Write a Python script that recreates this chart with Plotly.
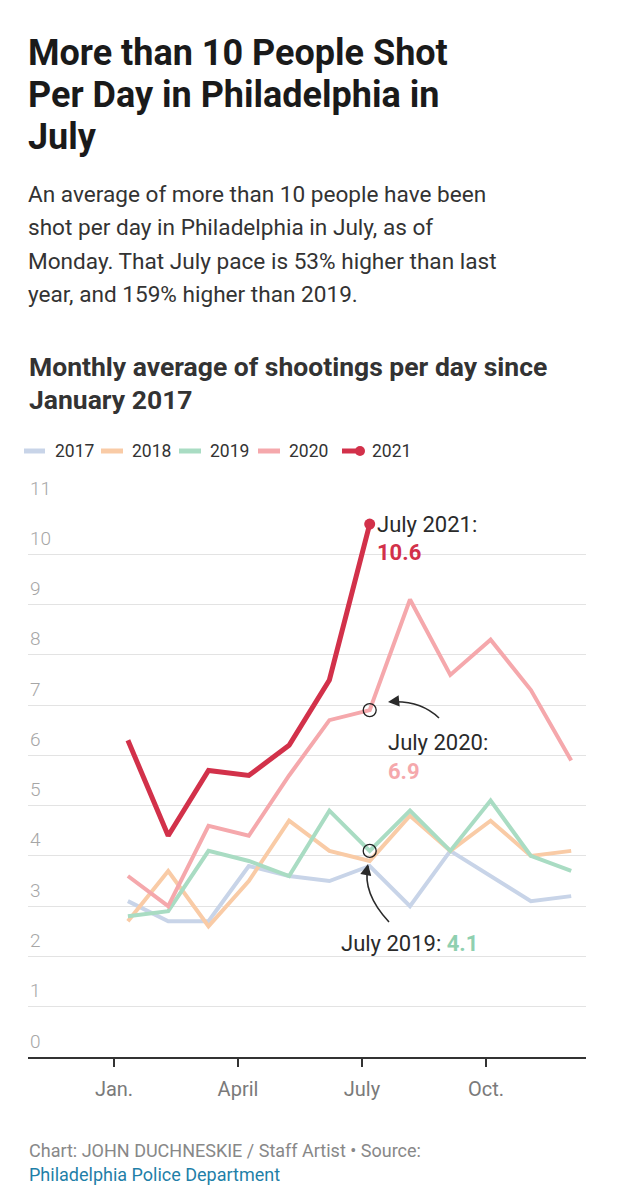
import plotly.graph_objects as go

# Monthly average of shootings per day, Jan..Dec
months = list(range(1, 13))
y2017 = [3.1, 2.7, 2.7, 3.8, 3.6, 3.5, 3.8, 3.0, 4.1, 3.6, 3.1, 3.2]
y2018 = [2.7, 3.7, 2.6, 3.5, 4.7, 4.1, 3.9, 4.8, 4.1, 4.7, 4.0, 4.1]
y2019 = [2.8, 2.9, 4.1, 3.9, 3.6, 4.9, 4.1, 4.9, 4.1, 5.1, 4.0, 3.7]
y2020 = [3.6, 3.0, 4.6, 4.4, 5.6, 6.7, 6.9, 9.1, 7.6, 8.3, 7.3, 5.9]
y2021 = [6.3, 4.4, 5.7, 5.6, 6.2, 7.5, 10.6]

years = ["2017", "2018", "2019", "2020", "2021"]
series = [y2017, y2018, y2019, y2020, y2021]
colors = ["#c8d4e8", "#f9cba6", "#a9dcc3", "#f5a8ac", "#d2314a"]
widths = [4, 4, 4, 4, 5]

tick_vals = [0.655, 3.732, 6.809, 9.886]
tick_text = ["Jan.", "April", "July", "Oct."]
y_ticks = list(range(0, 12))

FONT = "Roboto"
# page body has an 8px margin, so the figure is drawn 8px smaller
OFF = 8
W, H = 617 - OFF, 1200 - OFF
# plot box measured on the reference page
PL, PR, PT, PB = 28, 586, 504, 1057


def px_x(px):
    return (px - PL) / (PR - PL)


def px_y(py):
    return (PB - py) / (PB - PT)


# pixel -> data helpers (for the curved arrows)
def dx(px):
    return 1 + (px - 127.9) / 40.3


def dy(py):
    return (PB - py) / ((PB - PT) / 11)


fig = go.Figure()

for name, ys, c, w in zip(years, series, colors, widths):
    fig.add_trace(go.Scatter(
        x=months[:len(ys)], y=ys, mode="lines", name=name,
        line=dict(color=c, width=w), showlegend=False,
        hoverinfo="skip",
    ))

# end dot on 2021
fig.add_trace(go.Scatter(
    x=[months[len(y2021) - 1]], y=[y2021[-1]], mode="markers",
    marker=dict(color=colors[4], size=11), showlegend=False, hoverinfo="skip",
))

# highlighted July points
fig.add_trace(go.Scatter(
    x=[months[6], months[6]], y=[y2020[6], y2019[6]], mode="markers",
    marker=dict(symbol="circle-open", size=13, color="#222",
                line=dict(width=1.3)),
    showlegend=False, hoverinfo="skip",
))

ann = []


def text(px, py, s, size, color, weight=400, anchor="left"):
    ann.append(dict(
        xref="paper", yref="paper", x=px_x(px), y=px_y(py), text=s,
        showarrow=False, xanchor=anchor, yanchor="middle",
        font=dict(family=FONT, size=size, color=color, weight=weight),
    ))


# title
for i, line in enumerate(["More than 10 People Shot",
                          "Per Day in Philadelphia in", "July"]):
    text(26, 53 + i * 42, line, 36, "#1a1a1a", 700)

# subtitle
for i, line in enumerate(["An average of more than 10 people have been",
                          "shot per day in Philadelphia in July, as of",
                          "Monday. That July pace is 53% higher than last",
                          "year, and 159% higher than 2019."]):
    text(26, 194 + i * 33.6, line, 22.6, "#333333")

for i, line in enumerate(["Monthly average of shootings per day since",
                          "January 2017"]):
    text(27, 366 + i * 33.4, line, 26.5, "#333333", 700)

# legend (drawn by hand to match the original layout)
shapes = []
leg_y = 451
leg_line = [(24, 45), (101, 123), (179, 201), (258, 280), (342, 358)]
leg_text = [53, 130, 208, 287, 370]
for (x0, x1), tx, name, c in zip(leg_line, leg_text, years, colors):
    shapes.append(dict(type="line", xref="paper", yref="paper",
                       x0=px_x(x0), x1=px_x(x1), y0=px_y(leg_y), y1=px_y(leg_y),
                       line=dict(color=c, width=5)))
    text(tx, leg_y, name, 17.5, "#333333")
shapes.append(dict(type="circle", xref="paper", yref="paper",
                   xsizemode="pixel", ysizemode="pixel",
                   xanchor=px_x(360), yanchor=px_y(leg_y),
                   x0=-5, x1=5, y0=-5, y1=5,
                   fillcolor=colors[4], line=dict(width=0)))

# y tick labels sit above their gridlines
for v in y_ticks:
    ann.append(dict(
        xref="paper", yref="y", x=0, y=v, text=str(v), showarrow=False,
        xanchor="left", yanchor="middle", yshift=16,
        font=dict(family=FONT, size=19, color="#a6a6a6", weight=300),
    ))


# callouts
def callout(x, y, s, xshift, yshift, size=22, weight=400, color="#2a2a2a"):
    ann.append(dict(
        x=x, y=y, xref="x", yref="y", text=s, showarrow=False,
        xanchor="left", yanchor="middle", xshift=xshift, yshift=yshift,
        font=dict(family=FONT, size=size, color=color, weight=weight),
    ))


callout(7, y2021[6], "July 2021:", 5, 0)
callout(7, y2021[6], "10.6", 5, -28, weight=700, color=colors[4])
callout(7, y2020[6], "July 2020:", 16, -32)
callout(7, y2020[6], "6.9", 16, -61, weight=700, color="#f5a8ac")
callout(7, y2019[6],
        "July 2019: <span style='color:#8fd0b0'><b>4.1</b></span>", -31, -93)

# curved arrows
arrows = [
    ((439, 718), (420, 700), (390, 702), (388, 702), 10, -1),
    ((389, 922), (362, 893), (368, 866), (368, 864), -2, 10),
]
for p0, c, p1, tip, ax, ay in arrows:
    shapes.append(dict(
        type="path", xref="x", yref="y",
        path=f"M {dx(p0[0])},{dy(p0[1])} Q {dx(c[0])},{dy(c[1])} "
             f"{dx(p1[0])},{dy(p1[1])}",
        line=dict(color="#2a2a2a", width=1.6),
    ))
    ann.append(dict(
        x=dx(tip[0]), y=dy(tip[1]), xref="x", yref="y", text="",
        showarrow=True, arrowhead=2, arrowsize=1.4, arrowwidth=1.6,
        arrowcolor="#2a2a2a", ax=ax, ay=ay,
    ))

# footer
text(27, 1150, "Chart: JOHN DUCHNESKIE / Staff Artist \u2022 Source:", 18,
     "#888888")
text(27, 1174, "Philadelphia Police Department", 18, "#1f7fa8")

fig.update_layout(
    width=W, height=H,
    margin=dict(l=PL - OFF, r=W - (PR - OFF), t=PT - OFF, b=H - (PB - OFF)),
    paper_bgcolor="white", plot_bgcolor="white",
    annotations=ann, shapes=shapes,
    font=dict(family=FONT),
)

fig.update_xaxes(
    range=[dx(PL), dx(PR)], tickvals=tick_vals, ticktext=tick_text,
    showgrid=False, zeroline=False,
    showline=True, linecolor="#333333", linewidth=1.6,
    ticks="outside", ticklen=8, tickwidth=1.6, tickcolor="#333333",
    tickfont=dict(family=FONT, size=20, color="#7a7a7a"),
    ticklabelstandoff=5,
)
fig.update_yaxes(
    range=[0, 11], dtick=1, showgrid=True, gridcolor="#e3e3e3", gridwidth=1.4,
    zeroline=False, showline=False, showticklabels=False,
)

fig.write_html("out.html")
